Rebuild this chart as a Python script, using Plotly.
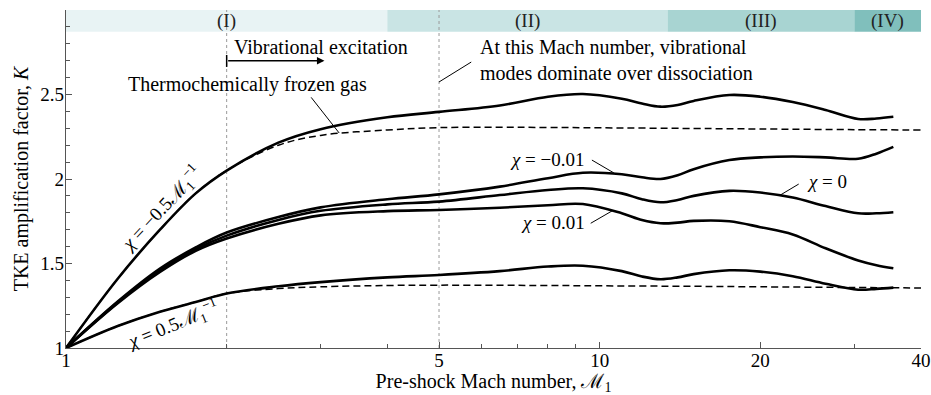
import math
import plotly.graph_objects as go

# ---------------- data ----------------
mach = [1, 1.25, 1.5, 1.75, 2, 2.5, 3, 4, 5, 6.5, 8, 9.3, 11, 12, 13, 14, 15, 17.5, 20, 23, 26.5, 30.5, 33, 35.5]

k_neg_half = [1.0, 1.41, 1.70, 1.915, 2.05, 2.215, 2.295, 2.365, 2.397, 2.435, 2.487, 2.503, 2.475,
              2.447, 2.428, 2.438, 2.462, 2.497, 2.487, 2.455, 2.408, 2.355, 2.358, 2.368]
k_neg_001 = [1.0, 1.275, 1.47, 1.595, 1.683, 1.775, 1.832, 1.88, 1.909, 1.955, 2.005, 2.037, 2.028,
             2.01, 2.0, 2.022, 2.058, 2.112, 2.128, 2.133, 2.128, 2.12, 2.15, 2.19]
k_zero = [1.0, 1.27, 1.46, 1.585, 1.665, 1.758, 1.812, 1.85, 1.866, 1.905, 1.935, 1.945, 1.915,
          1.88, 1.862, 1.876, 1.9, 1.93, 1.92, 1.89, 1.84, 1.797, 1.797, 1.803]
k_pos_001 = [1.0, 1.265, 1.45, 1.575, 1.648, 1.735, 1.785, 1.81, 1.817, 1.83, 1.845, 1.852, 1.797,
             1.757, 1.738, 1.742, 1.752, 1.75, 1.715, 1.672, 1.59, 1.518, 1.49, 1.472]
k_pos_half = [1.0, 1.13, 1.215, 1.272, 1.322, 1.365, 1.39, 1.418, 1.432, 1.455, 1.482, 1.487, 1.455,
              1.423, 1.407, 1.418, 1.437, 1.46, 1.452, 1.425, 1.38, 1.345, 1.35, 1.357]

mach_frozen = [1, 1.25, 1.5, 1.75, 2, 2.5, 3, 4, 5, 6.5, 8, 10, 15, 20, 30, 40]
k_frozen_neg = [1.0, 1.41, 1.70, 1.915, 2.05, 2.20, 2.258, 2.29, 2.304, 2.306, 2.305, 2.303,
                2.299, 2.296, 2.292, 2.29]
k_frozen_pos = [1.0, 1.13, 1.215, 1.272, 1.322, 1.352, 1.362, 1.37, 1.372, 1.371, 1.37, 1.368,
                1.365, 1.362, 1.358, 1.355]

regime_edges = [1, 4, 13.4, 30, 40]
regime_labels = ["(I)", "(II)", "(III)", "(IV)"]
regime_colors = ["#e8f3f4", "#c9e4e4", "#a8d4d2", "#80bfbc"]

x_ticks = [1, 5, 10, 20, 40]
x_minor = [2, 3, 4, 6, 7, 8, 9, 30]
y_ticks = [1, 1.5, 2, 2.5, 3]
y_minor = [1.1, 1.2, 1.3, 1.4, 1.6, 1.7, 1.8, 1.9, 2.1, 2.2, 2.3, 2.4, 2.6, 2.7, 2.8, 2.9]

FONT = "Liberation Serif, DejaVu Serif, serif"
lx = math.log10

fig = go.Figure()

for yv in [k_frozen_neg, k_frozen_pos]:
    fig.add_trace(go.Scatter(x=mach_frozen, y=yv, mode="lines", line_shape="spline",
                             line=dict(color="black", width=1.5, dash="7px,4px"), hoverinfo="skip"))
for yv in [k_neg_half, k_neg_001, k_zero, k_pos_001, k_pos_half]:
    fig.add_trace(go.Scatter(x=mach, y=yv, mode="lines", line_shape="spline",
                             line=dict(color="black", width=2.6), hoverinfo="skip"))

shapes = []
band_lo = 2.872
for i in range(4):
    shapes.append(dict(type="rect", xref="x", yref="y", x0=regime_edges[i], x1=regime_edges[i + 1],
                       y0=band_lo, y1=3, fillcolor=regime_colors[i], line_width=0, layer="below"))
for xv in [2, 5]:
    shapes.append(dict(type="line", xref="x", yref="y", x0=xv, x1=xv, y0=1, y1=3,
                       line=dict(color="#999999", width=1, dash="dot"), layer="below"))

# connector lines
connectors = [
    (2.88, 2.483, 3.25, 2.272),
    (5.0, 2.574, 5.745, 2.692),
    (9.67, 2.112, 10.63, 2.036),
    (21.8, 1.905, 23.6, 1.970),
    (9.62, 1.738, 10.56, 1.812),
]
for x0, y0, x1, y1 in connectors:
    shapes.append(dict(type="line", xref="x", yref="y", x0=x0, y0=y0, x1=x1, y1=y1,
                       line=dict(color="black", width=1)))
# start bar of the arrow
shapes.append(dict(type="line", xref="x", yref="y", x0=2, x1=2, y0=2.663, y1=2.734,
                   line=dict(color="black", width=1.5)))

ann = []
for i in range(4):
    xc = (lx(regime_edges[i]) + lx(regime_edges[i + 1])) / 2
    ann.append(dict(x=xc, y=(band_lo + 3) / 2, text=regime_labels[i], showarrow=False,
                    font=dict(size=19, color="#222")))
ann.append(dict(x=lx(3.05), y=2.70, ax=lx(2), ay=2.70, axref="x", ayref="y", text="",
                showarrow=True, arrowhead=2, arrowsize=1, arrowwidth=1.5, arrowcolor="black"))
ann.append(dict(x=lx(2.045), y=2.781, text="Vibrational excitation", showarrow=False, xanchor="left",
                font=dict(size=20)))
ann.append(dict(x=0.3404, y=2.562, text="Thermochemically frozen gas", showarrow=False, font=dict(size=20)))
ann.append(dict(x=0.772, y=2.707, text="At this Mach number, vibrational<br>modes dominate over dissociation",
                showarrow=False, xanchor="left", align="left", font=dict(size=20)))
ann.append(dict(x=0.9763, y=2.118, text="<i>χ</i> = −0.01", showarrow=False, xanchor="right", font=dict(size=19)))
ann.append(dict(x=1.384, y=1.988, text="<i>χ</i> = 0", showarrow=False, xanchor="left", font=dict(size=19)))
ann.append(dict(x=0.9763, y=1.74, text="<i>χ</i> = 0.01", showarrow=False, xanchor="right", font=dict(size=19)))
ann.append(dict(x=0.1777, y=1.828, text="<i>χ</i> = −0.5ℳ<sub>1</sub><sup>−1</sup>", showarrow=False,
                textangle=-47, font=dict(size=19)))
ann.append(dict(x=0.2001, y=1.142, text="<i>χ</i> = 0.5ℳ<sub>1</sub><sup>−1</sup>", showarrow=False,
                textangle=-22, font=dict(size=19)))

fig.update_layout(
    width=931, height=395,
    margin=dict(l=66, r=10, t=10, b=47),
    paper_bgcolor="white", plot_bgcolor="white",
    showlegend=False,
    font=dict(family=FONT, size=19, color="black"),
    shapes=shapes, annotations=ann,
    xaxis=dict(type="log", range=[0, lx(40)], tickvals=x_ticks, ticktext=[str(v) for v in x_ticks],
               ticks="inside", ticklen=6, tickcolor="#555", showline=True, linecolor="#555", linewidth=1.2,
               showgrid=False, zeroline=False, automargin=False, ticklabelstandoff=-5,
               minor=dict(tickvals=x_minor, ticks="inside", ticklen=4, tickcolor="#555", showgrid=False),
               title=dict(text="Pre-shock Mach number, ℳ<sub>1</sub>", standoff=5, font=dict(size=20))),
    yaxis=dict(range=[1, 3], tickvals=y_ticks, ticktext=["1", "1.5", "2", "2.5", "3"],
               ticks="inside", ticklen=6, tickcolor="#555", showline=True, linecolor="#555", linewidth=1.2,
               showgrid=False, zeroline=False, automargin=False, ticklabelstandoff=-3,
               minor=dict(tickvals=y_minor, ticks="inside", ticklen=4, tickcolor="#555", showgrid=False),
               title=dict(text="TKE amplification factor, <i>K</i>", standoff=6, font=dict(size=20))),
)

fig.write_html("out.html")
